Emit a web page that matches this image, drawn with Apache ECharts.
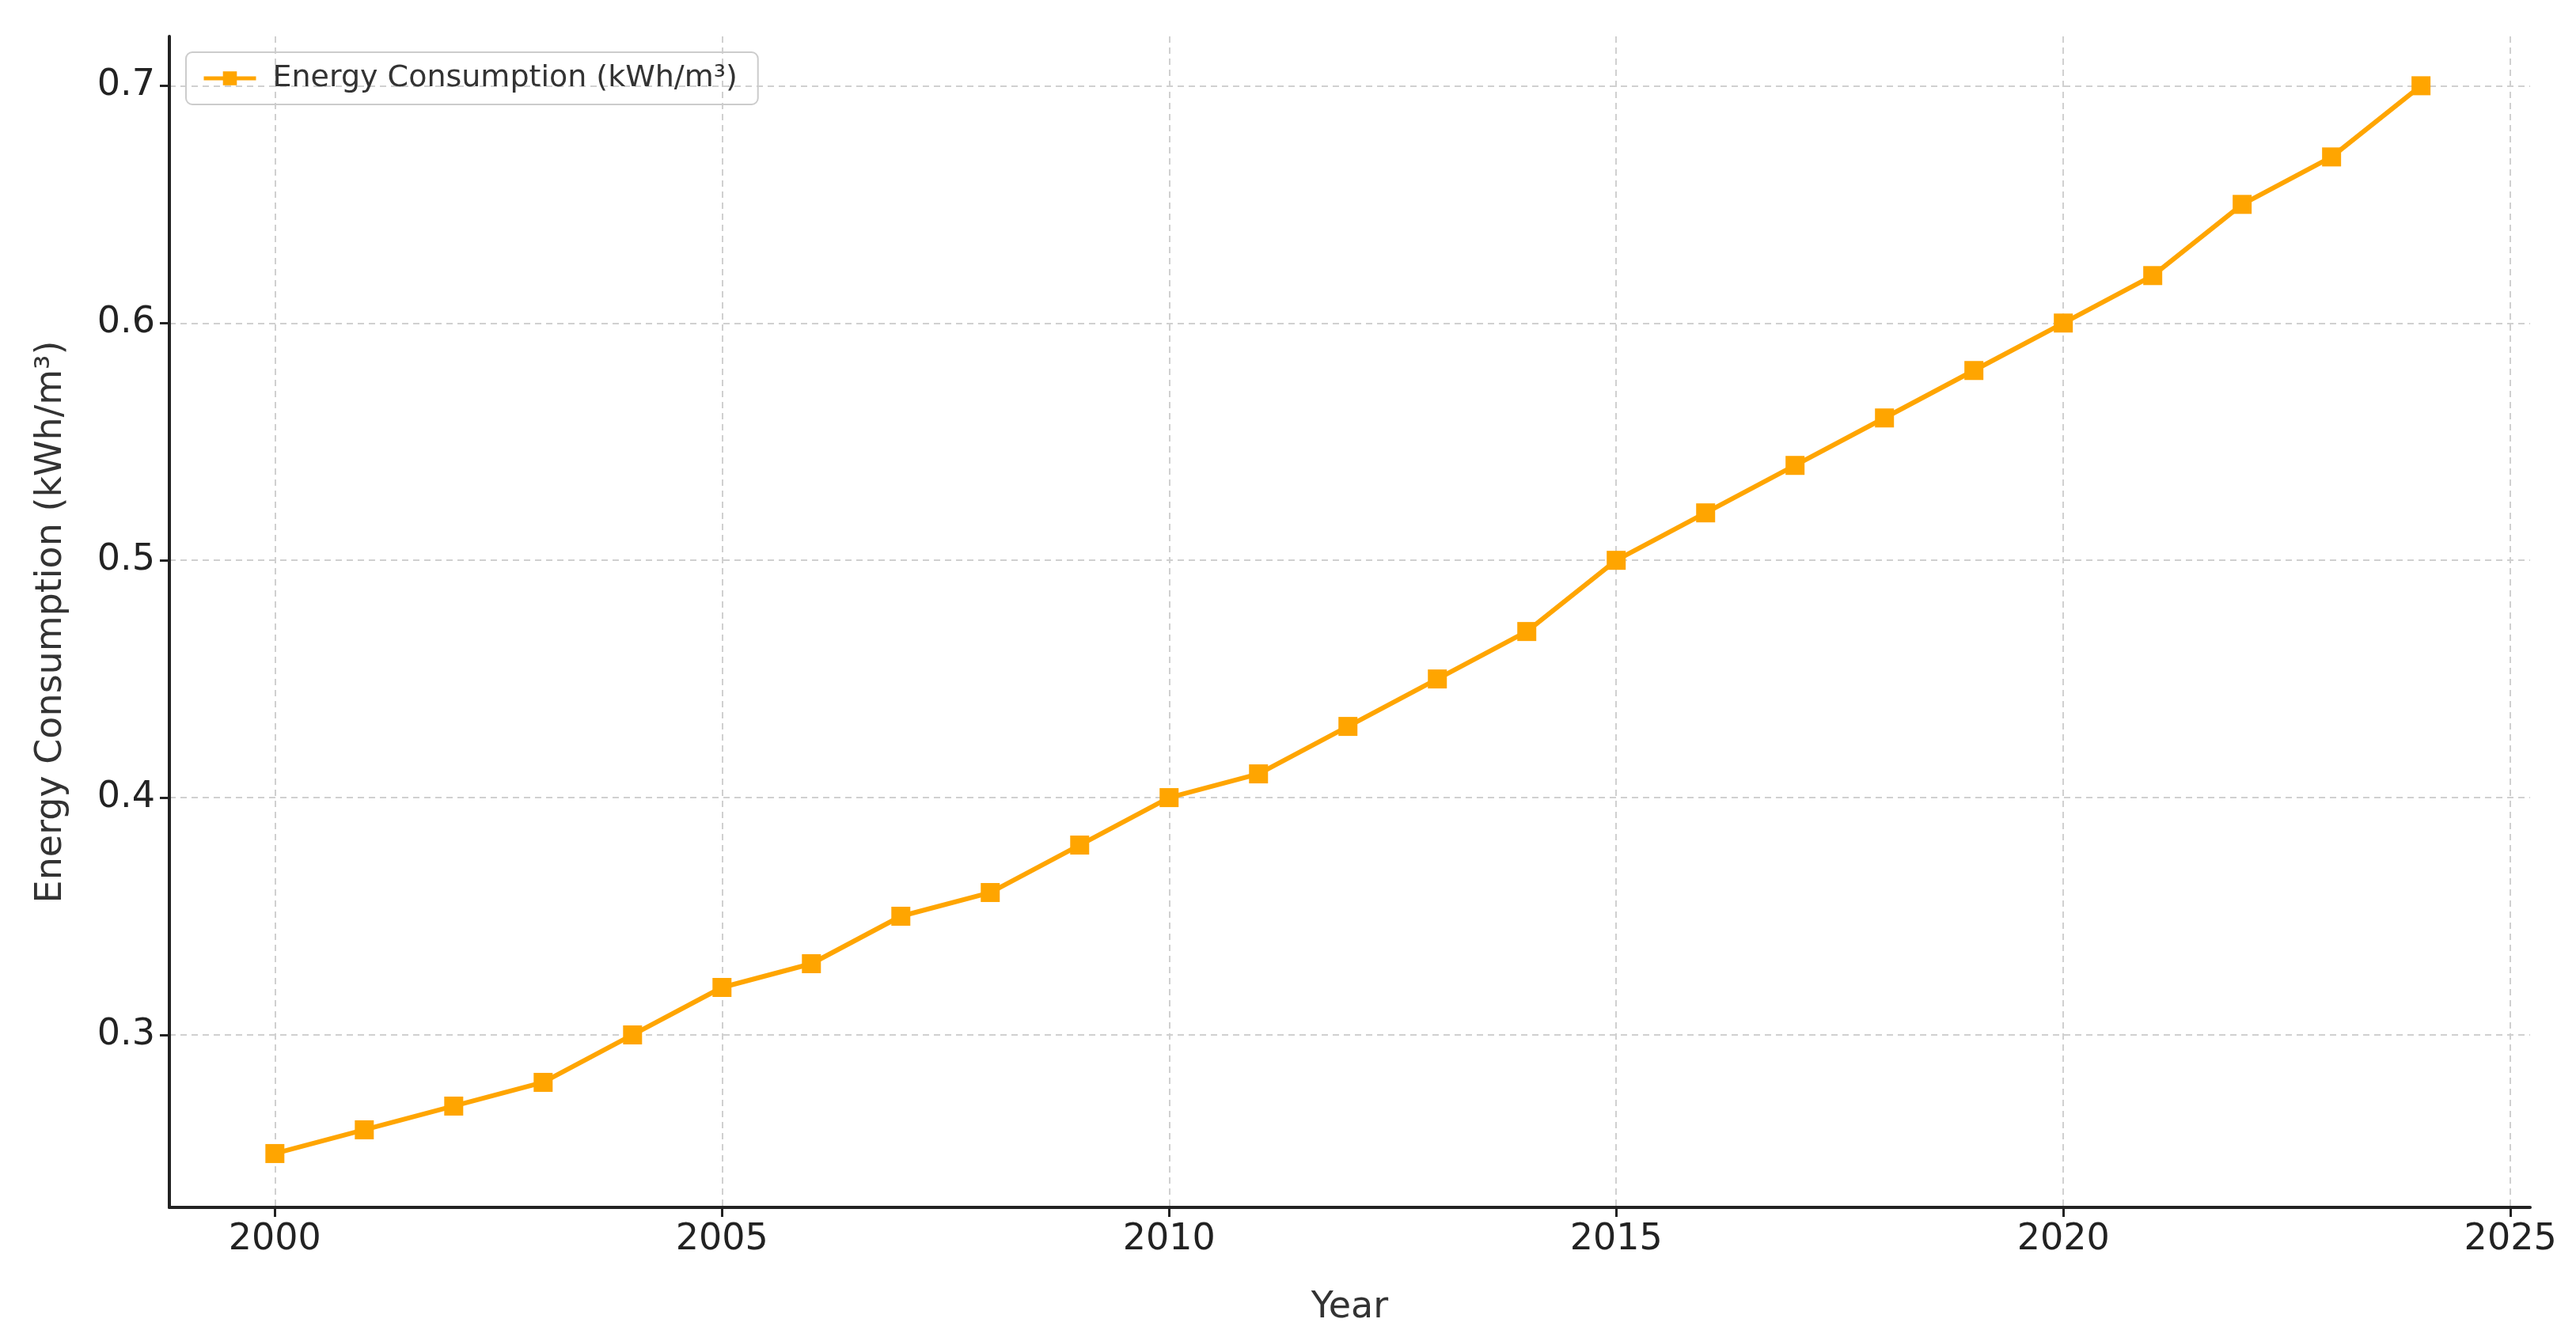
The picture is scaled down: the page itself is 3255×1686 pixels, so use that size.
<!DOCTYPE html>
<html>
<head>
<meta charset="utf-8">
<script src="https://cdn.jsdelivr.net/npm/echarts@6/dist/echarts.min.js"></script>
<style>html,body{margin:0;padding:0;background:#fff}#chart{width:3255px;height:1686px}</style>
</head>
<body>
<div id="chart"></div>
<script>
var years = [2000,2001,2002,2003,2004,2005,2006,2007,2008,2009,2010,2011,2012,2013,2014,2015,2016,2017,2018,2019,2020,2021,2022,2023,2024];
var consumption = [0.25,0.26,0.27,0.28,0.30,0.32,0.33,0.35,0.36,0.38,0.40,0.41,0.43,0.45,0.47,0.50,0.52,0.54,0.56,0.58,0.60,0.62,0.65,0.67,0.70];
var xTicks = [2000,2005,2010,2015,2020,2025];
var yTicks = [0.3,0.4,0.5,0.6,0.7];
var seriesName = 'Energy Consumption (kWh/m³)';

var font = 'DejaVu Sans';
var chart = echarts.init(document.getElementById('chart'));

var points = years.map(function(y, i) { return [y, consumption[i]]; });

chart.setOption({
    backgroundColor: '#fff',
    animation: false,
    grid: { left: 214, right: 58, top: 46, bottom: 160 },
    legend: {
        left: 235, top: 66,
        padding: [14, 26, 14, 20],
        itemGap: 20,
        borderColor: '#cccccc', borderWidth: 2, borderRadius: 8,
        itemWidth: 66, itemHeight: 22,
        lineStyle: { width: 5 },
        textStyle: { fontFamily: font, fontSize: 38, color: '#333', padding: [0, 0, 0, 16] },
        data: [seriesName]
    },
    xAxis: {
        type: 'value', min: 1998.82, max: 2025.22,
        name: 'Year', nameLocation: 'middle', nameGap: 104,
        nameTextStyle: { fontFamily: font, fontSize: 46, color: '#333' },
        axisLine: { lineStyle: { color: '#222', width: 4 } },
        axisTick: { customValues: xTicks, length: 12, lineStyle: { color: '#222', width: 3 } },
        axisLabel: { customValues: xTicks, fontFamily: font, fontSize: 46, color: '#222', margin: 18, formatter: function(v){ return String(v); } },
        splitLine: { show: true, lineStyle: { color: '#d0d0d0', type: [8, 6], width: 2 } }
    },
    yAxis: {
        type: 'value', min: 0.2273, max: 0.7208,
        name: 'Energy Consumption (kWh/m³)', nameLocation: 'middle', nameGap: 126,
        nameTextStyle: { fontFamily: font, fontSize: 46, color: '#333' },
        axisLine: { show: true, lineStyle: { color: '#222', width: 4 } },
        axisTick: { show: true, customValues: yTicks, length: 12, lineStyle: { color: '#222', width: 3 } },
        axisLabel: { customValues: yTicks, fontFamily: font, fontSize: 46, color: '#222', margin: 18, formatter: function(v){ return v.toFixed(1); } },
        splitLine: { show: true, lineStyle: { color: '#d0d0d0', type: [8, 6], width: 2 } }
    },
    series: [{
        name: seriesName,
        type: 'line',
        data: points,
        symbol: 'rect',
        symbolSize: 24,
        itemStyle: { color: '#FFA500' },
        lineStyle: { color: '#FFA500', width: 6 }
    }]
});
</script>
</body>
</html>
